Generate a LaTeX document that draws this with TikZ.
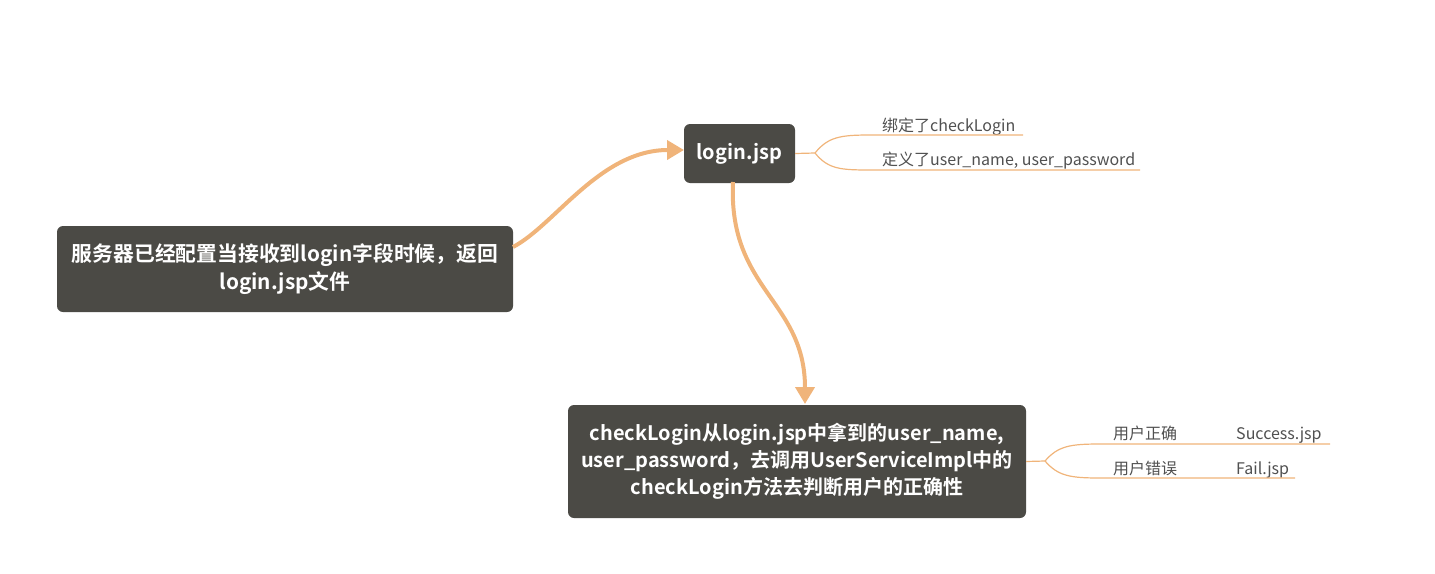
\documentclass[tikz,border=0pt]{standalone}
\usepackage{fontspec}
\setmainfont{Noto Sans CJK SC}[BoldFont={Noto Sans CJK SC Bold}]
\usetikzlibrary{arrows.meta}
\definecolor{boxgray}{HTML}{4B4A45}
\definecolor{branch}{HTML}{F0B47A}
\definecolor{leaftext}{HTML}{505050}
\begin{document}
\begin{tikzpicture}[x=1pt,y=-1pt,
  topic/.style={fill=boxgray, rounded corners=6pt, text=white, font=\fontsize{20}{27}\selectfont\bfseries, align=center, inner sep=0pt},
  flow/.style={draw=branch, line width=4pt, -{Triangle[length=17pt,width=19pt]}},
  twig/.style={draw=branch, line width=1.2pt},
  leaf/.style={text=leaftext, font=\fontsize{16}{18}\selectfont, inner sep=0pt, anchor=base west}]
\useasboundingbox (0,0) rectangle (1435,573);

% main topics
\node [topic, font=\fontsize{20.8}{28}\selectfont\bfseries, minimum width=456pt, minimum height=86pt] (server) at (285,269)
  {服务器已经配置当接收到login字段时候，返回\\login.jsp文件};
\node [topic, minimum width=111pt, minimum height=59pt] (login) at (739.5,153.5) {login.jsp};
\node [topic, minimum width=458pt, minimum height=113pt] (check) at (797,461.5)
  {checkLogin从login.jsp中拿到的user\_name,\\user\_password，去调用UserServiceImpl中的\\checkLogin方法去判断用户的正确性};

% arrows between topics
\coordinate (serverout) at (513,247);
\coordinate (loginin) at (684,150);
\coordinate (loginout) at (733,182);
\coordinate (checkin) at (805,404);
\draw [flow] (serverout) .. controls (555,225) and (600,150) .. (loginin);
\draw [flow] (loginout) .. controls (728,290) and (805,300) .. (checkin);

% details of login.jsp
\node [leaf] (bind) at (882,131) {绑定了checkLogin};
\node [leaf] (define) at (882,165) {定义了user\_name, user\_password};
\coordinate (forkA) at (815,153);
\coordinate (bindend) at (1023,135);
\coordinate (defineend) at (1140,170);
\draw [twig] (login.east) -- (forkA) .. controls (828,137) and (840,135) .. (870,135) -- (bindend);
\draw [twig] (forkA) .. controls (828,169) and (840,170) .. (870,170) -- (defineend);

% results of checkLogin
\node [leaf] (right) at (1113,439) {用户正确};
\node [leaf] (ok) at (1236,439) {Success.jsp};
\node [leaf] (wrong) at (1113,474) {用户错误};
\node [leaf] (fail) at (1236,474) {Fail.jsp};
\coordinate (forkB) at (1045,461);
\coordinate (okend) at (1330,444);
\coordinate (failend) at (1295,478);
\draw [twig] (check.east) -- (forkB) .. controls (1058,446) and (1070,444) .. (1100,444) -- (okend);
\draw [twig] (forkB) .. controls (1058,476) and (1070,478) .. (1100,478) -- (failend);
\end{tikzpicture}
\end{document}
